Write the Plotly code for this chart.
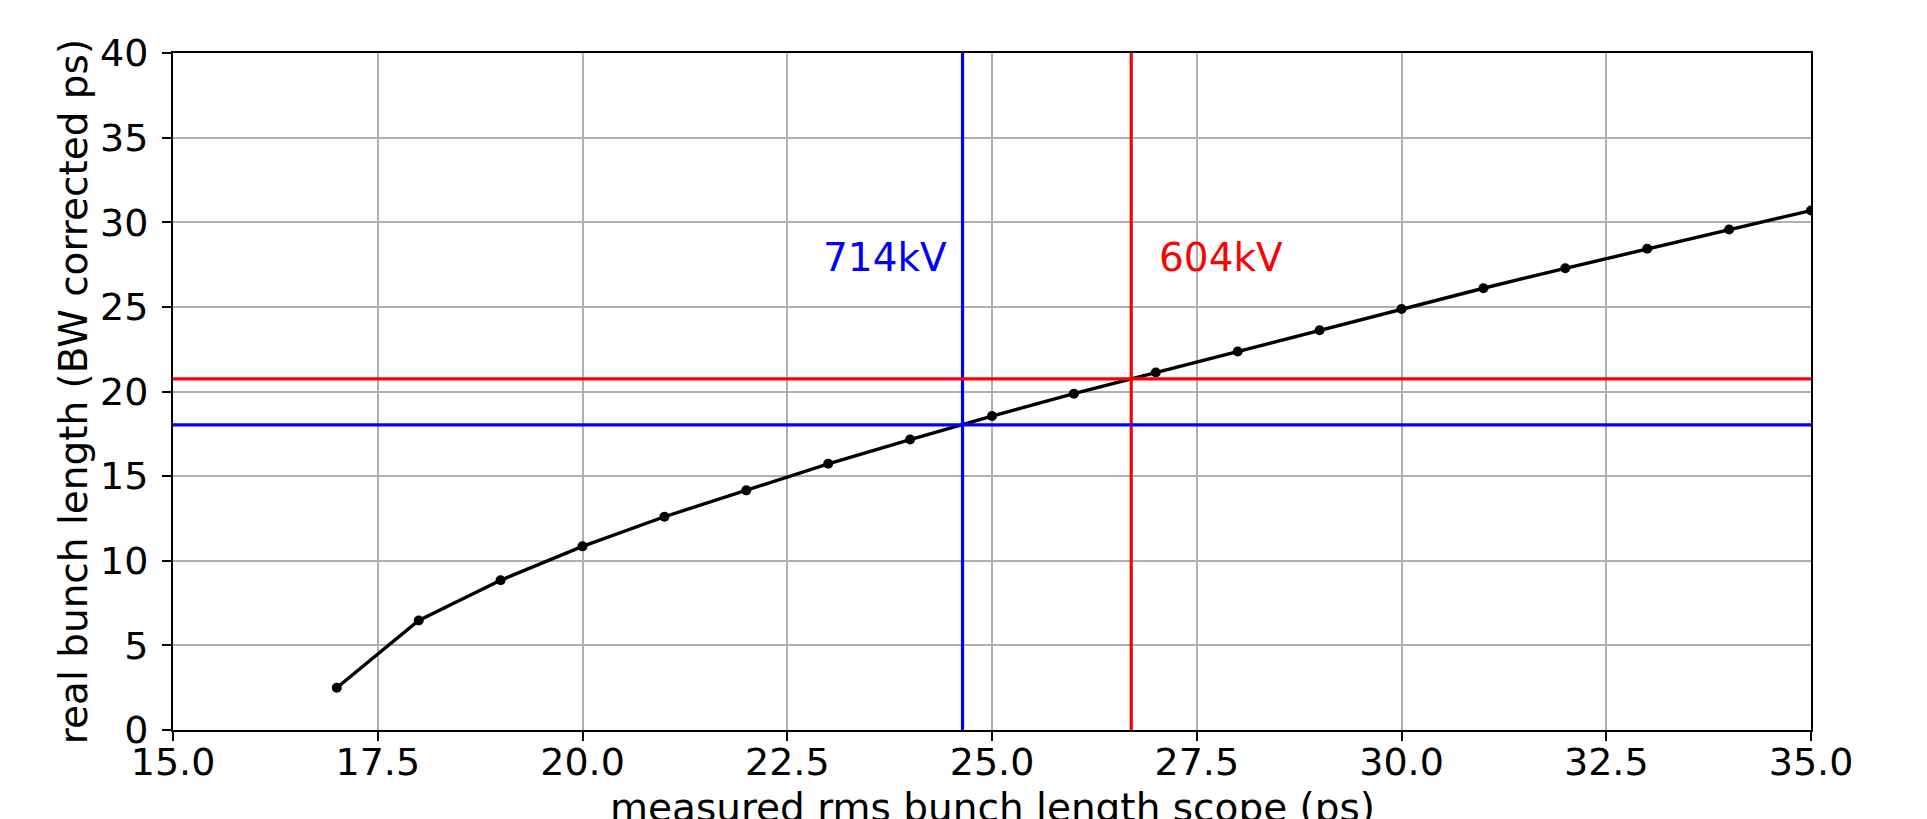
import plotly.graph_objects as go

# Data
measured_ps = [17, 18, 19, 20, 21, 22, 23, 24, 25, 26, 27, 28, 29, 30, 31, 32, 33, 34, 35]
real_ps = [2.50, 6.47, 8.85, 10.85, 12.60, 14.16, 15.73, 17.16, 18.55, 19.87, 21.12, 22.36,
           23.62, 24.87, 26.10, 27.28, 28.43, 29.57, 30.69]

vline_x = [24.64, 26.70]
hline_y = [18.03, 20.75]
line_colors = ["#0000ff", "#ff0000"]
label_text = ["714kV", "604kV"]
label_x = [24.48, 27.02]
label_y = [27.9, 27.9]

x_ticks = [15.0, 17.5, 20.0, 22.5, 25.0, 27.5, 30.0, 32.5, 35.0]
y_ticks = [0, 5, 10, 15, 20, 25, 30, 35, 40]

x_title = "measured rms bunch length scope (ps)"
y_title = "real bunch length (BW corrected ps)"

FONT = "DejaVu Sans"
FS_TICK = 38
FS_TITLE = 39

fig = go.Figure()
fig.add_trace(go.Scatter(
    x=measured_ps, y=real_ps, mode="lines+markers",
    line=dict(color="black", width=3.4),
    marker=dict(color="black", size=10),
    showlegend=False,
))

shapes = []
for xv, c in zip(vline_x, line_colors):
    shapes.append(dict(type="line", xref="x", yref="paper", x0=xv, x1=xv, y0=0, y1=1,
                       line=dict(color=c, width=3.2), layer="above"))
for yv, c in zip(hline_y, line_colors):
    shapes.append(dict(type="line", xref="paper", yref="y", x0=0, x1=1, y0=yv, y1=yv,
                       line=dict(color=c, width=3.2), layer="above"))

annotations = []
for t, xv, yv, c, anc in zip(label_text, label_x, label_y, line_colors, ["right", "left"]):
    annotations.append(dict(x=xv, y=yv, xref="x", yref="y", text=t, showarrow=False,
                            xanchor=anc, yanchor="middle",
                            font=dict(family=FONT, size=FS_TITLE, color=c)))
# x-axis title (placed as annotation so it can run past the bottom edge like the reference)
annotations.append(dict(x=0.5, y=0, xref="paper", yref="paper", text=x_title,
                        showarrow=False, xanchor="center", yanchor="top", yshift=-53,
                        font=dict(family=FONT, size=FS_TITLE, color="black")))

fig.update_layout(
    width=1919, height=811,
    margin=dict(l=165, r=116, t=45, b=89, autoexpand=False),
    paper_bgcolor="white", plot_bgcolor="white",
    font=dict(family=FONT, size=FS_TICK, color="black"),
    shapes=shapes, annotations=annotations,
    showlegend=False,
)
fig.update_xaxes(
    range=[15, 35], tickvals=x_ticks, ticktext=[f"{v:.1f}" for v in x_ticks],
    showgrid=True, gridcolor="#b0b0b0", gridwidth=1.6,
    showline=True, linecolor="black", linewidth=2, mirror=True,
    ticks="outside", ticklen=9, tickwidth=2, tickcolor="black",
    ticklabelstandoff=-12, tickfont=dict(family=FONT, size=FS_TICK),
    zeroline=False, automargin=False,
)
fig.update_yaxes(
    range=[0, 40], tickvals=y_ticks, ticktext=[str(v) for v in y_ticks],
    showgrid=True, gridcolor="#b0b0b0", gridwidth=1.6,
    showline=True, linecolor="black", linewidth=2, mirror=True,
    ticks="outside", ticklen=9, tickwidth=2, tickcolor="black",
    ticklabelstandoff=6, tickfont=dict(family=FONT, size=FS_TICK),
    zeroline=False, automargin=False,
    title=dict(text=y_title, standoff=0, font=dict(family=FONT, size=FS_TITLE)),
)

fig.write_html("out.html")
